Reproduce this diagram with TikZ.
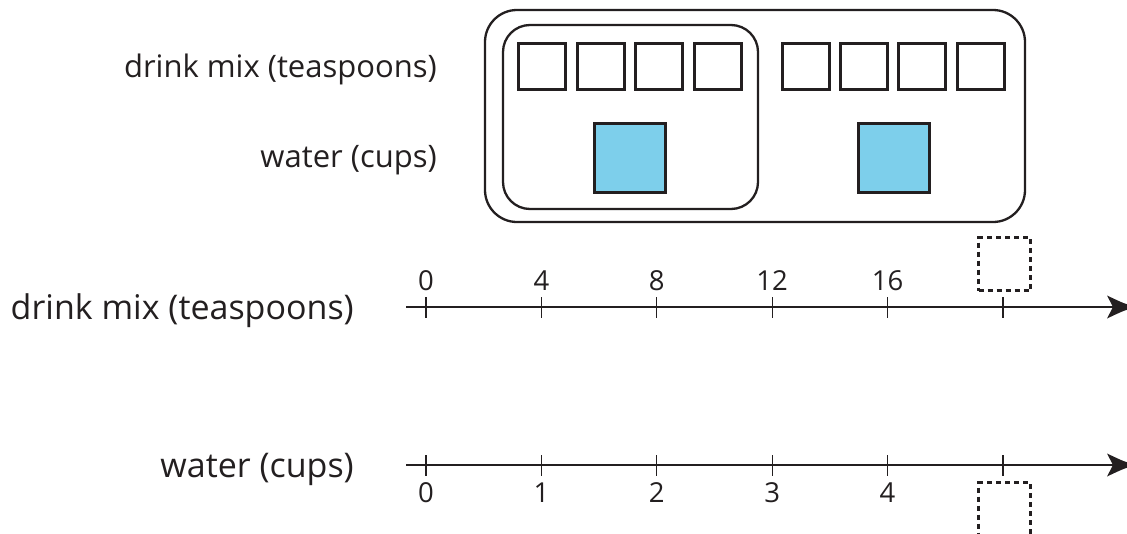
\documentclass[tikz,border=0pt]{standalone}
\usepackage{fontspec}
\setmainfont{Open Sans}
\usetikzlibrary{calc}
\definecolor{waterblue}{RGB}{125,207,235}
\definecolor{ink}{RGB}{35,31,32}
\begin{document}
\begin{tikzpicture}[x=1pt,y=-1pt,
  sq/.style={draw=ink, line width=2.3pt, minimum width=47pt, minimum height=46pt, inner sep=0pt},
  bluesq/.style={draw=ink, fill=waterblue, line width=2.3pt, minimum width=71pt, minimum height=69pt, inner sep=0pt},
  grp/.style={draw=ink, line width=2.3pt},
  axis/.style={draw=ink, line width=2.6pt},
  head/.style={fill=ink},
  tickmark/.style={draw=ink, line width=1.2pt},
  lab/.style={font=\fontsize{31}{36}\selectfont, text=ink, inner sep=0pt, anchor=base east},
  biglab/.style={font=\fontsize{34}{40}\selectfont, text=ink, inner sep=0pt, anchor=base east},
  num/.style={font=\fontsize{27.5}{32}\selectfont, text=ink, inner sep=0pt},
  ansbox/.style={draw=ink, line width=2.5pt, dash pattern=on 5pt off 4pt, minimum width=52pt, minimum height=53pt, inner sep=0pt}
]
\useasboundingbox (0,0) rectangle (1127,533);
\clip (0,0) rectangle (1127,533);

% tape labels
\node[lab] (tdm) at (437,77) {drink mix (teaspoons)};
\node[lab] (tw) at (437,167) {water (cups)};

% groups
\draw[grp, rounded corners=32pt] (485,10) rectangle (1025,222);
\draw[grp, rounded corners=27pt] (503,25) rectangle (758,209);

% drink mix squares
\foreach \x [count=\k] in {542,601,659,718,806,864,922,981}
  \node[sq] (m\k) at (\x,66.5) {};
% water squares
\node[bluesq] (w1) at (630,158) {};
\node[bluesq] (w2) at (894,158) {};

% double number line
\node[biglab] (ldm) at (354,319) {drink mix (teaspoons)};
\node[biglab] (lw) at (354,477) {water (cups)};

\coordinate (a0) at (406,307);
\coordinate (a1) at (1137,307);
\coordinate (b0) at (406,465);
\coordinate (b1) at (1137,465);
\draw[axis] (a0) -- ($(a1)+(-20,0)$);
\draw[axis] (b0) -- ($(b1)+(-20,0)$);
\fill[head] (a1) .. controls ($(a1)+(-12,-3)$) .. ($(a1)+(-30,-11.5)$) -- ($(a1)+(-24,0)$) -- ($(a1)+(-30,11.5)$) .. controls ($(a1)+(-12,3)$) .. (a1) -- cycle;
\fill[head] (b1) .. controls ($(b1)+(-12,-3)$) .. ($(b1)+(-30,-11.5)$) -- ($(b1)+(-24,0)$) -- ($(b1)+(-30,11.5)$) .. controls ($(b1)+(-12,3)$) .. (b1) -- cycle;

\foreach \v [count=\k from 0] in {0,4,8,12,16} {
  \draw[tickmark] (426+115.4*\k,297) -- (426+115.4*\k,318);
  \node[num] (dn\k) at (426+115.4*\k,281) {\v};
}
\foreach \v [count=\k from 0] in {0,1,2,3,4} {
  \draw[tickmark] (426+115.4*\k,455) -- (426+115.4*\k,476);
  \node[num] (wn\k) at (426+115.4*\k,493) {\v};
}
\draw[tickmark] (1003,297) -- (1003,318);
\draw[tickmark] (1003,455) -- (1003,476);
\node[ansbox] (q1) at (1004.5,264) {};
\node[ansbox] (q2) at (1004.5,509) {};
\end{tikzpicture}
\end{document}
